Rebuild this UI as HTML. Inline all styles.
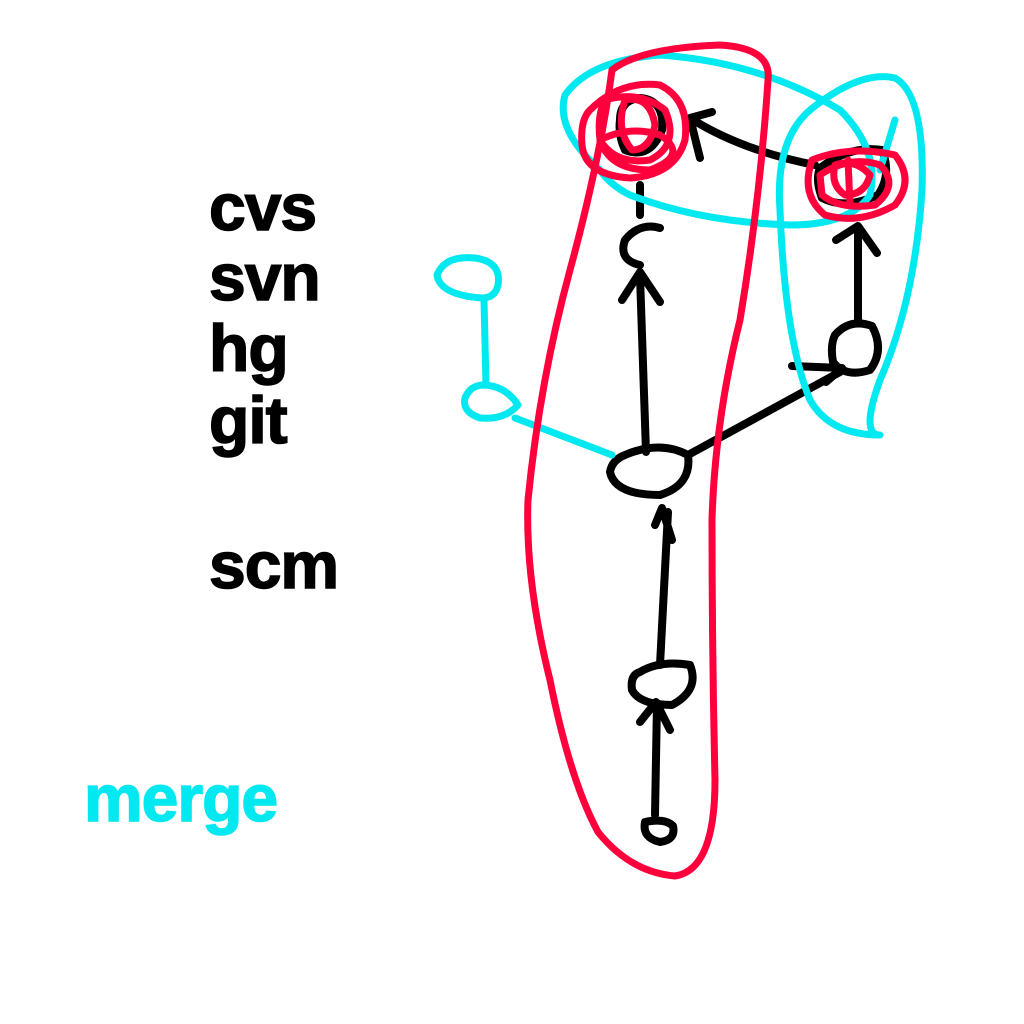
<!DOCTYPE html>
<html><head><style>
html,body{margin:0;padding:0;background:#fff;width:1024px;height:1024px;overflow:hidden}
.t{position:absolute;font-family:"Liberation Sans",sans-serif;font-weight:bold;font-size:66px;letter-spacing:-1px;line-height:1;-webkit-text-stroke:1.5px currentColor}
</style></head><body>
<div class="t" style="left:209px;top:174px">cvs</div>
<div class="t" style="left:209px;top:244px">svn</div>
<div class="t" style="left:209px;top:315px">hg</div>
<div class="t" style="left:209px;top:387px">git</div>
<div class="t" style="left:209px;top:532px">scm</div>
<div class="t" style="left:84px;top:765px;color:#00e8f0">merge</div>
<svg width="1024" height="1024" style="position:absolute;left:0;top:0" fill="none" stroke-linecap="round" stroke-linejoin="round">
<g stroke="#000" stroke-width="8">
<path d="M645 822 Q642 838 660 842 Q676 840 673 826 Q665 818 645 822Z"/>
<path d="M655 815 L657 703 M640 722 L656 702 L670 730"/>
<path d="M640 672 Q660 660 690 665 Q700 690 672 705 Q640 705 632 690 Q630 675 640 672Z"/>
<path d="M660 665 L668 512 M655 525 L662 508 L672 540"/>
<path d="M625 455 Q660 440 688 455 Q692 485 660 495 Q615 495 610 472 Q612 460 625 455Z"/>
<path d="M646 452 L640 276 M622 300 L640 272 L660 302"/>
<path d="M688 455 L840 372 M792 366 L842 368 L826 382"/>
<path d="M660 228 Q640 222 625 240 Q618 260 640 265"/>
<path d="M835 335 Q850 318 872 326 Q885 350 870 370 Q845 378 833 362 Q830 345 835 335Z"/>
<path d="M858 320 L858 228 M836 240 L858 226 L877 253"/>
<path d="M640 215 L640 185"/>
<path d="M815 165 Q740 150 690 118 M690 118 L712 112 M690 118 L700 158"/>
<path d="M620 120 Q620 100 640 98 Q665 100 662 130 Q650 160 625 150 Q618 135 620 120Z"/>
<path d="M820 168 Q850 145 882 150 Q892 175 878 195 Q845 210 822 198 Q815 180 820 168Z"/>
</g>
<g stroke="#00e8f0" stroke-width="7">
<path d="M600 170 Q555 130 565 95 Q590 60 660 55 Q760 62 840 110 Q880 150 870 195 Q850 225 790 225 Q700 222 630 195 Q610 185 600 170Z"/>
<path d="M780 210 Q775 140 810 110 Q860 70 895 78 Q925 95 922 190 Q915 300 880 380 Q860 435 880 435 Q830 435 810 400 Q785 340 780 210Z"/>
<path d="M895 120 L880 170"/>
<path d="M482 298 Q440 295 437 275 Q445 255 475 258 Q502 262 498 285 Q495 298 482 298Z"/>
<path d="M484 300 L486 385"/>
<path d="M482 385 Q505 385 518 405 Q505 420 480 418 Q462 412 465 398 Q470 386 482 385Z"/>
<path d="M515 418 Q560 435 612 455"/>
</g>
<g stroke="#ff003c" stroke-width="7">
<path d="M612 70 Q640 48 720 45 Q772 48 768 80 Q760 200 740 320 Q715 420 712 520 Q712 650 715 780 Q715 870 675 876 Q630 872 598 832 Q570 780 550 680 Q525 580 528 500 Q540 380 570 270 Q600 160 612 70Z"/>
<path d="M590 110 Q620 80 660 85 Q690 100 685 140 Q675 175 630 178 Q585 175 582 145 Q580 120 590 110Z"/>
<path d="M605 100 Q640 90 665 110 Q680 145 650 160 Q615 165 600 140 Q597 115 605 100Z"/>
<path d="M625 100 Q650 95 655 125 Q650 150 632 150 Q615 130 625 100Z"/>
<path d="M600 140 Q630 125 660 135 Q690 155 650 170 Q610 170 600 140Z"/>
<path d="M812 160 Q850 145 895 155 Q915 180 895 205 Q860 225 825 215 Q800 195 812 160Z"/>
<path d="M820 175 Q850 155 880 165 Q900 185 875 205 Q840 210 822 195 Z"/>
<path d="M835 165 Q855 158 870 175 Q865 195 845 195 Q830 185 835 165Z"/>
<path d="M848 160 L850 205"/>
</g>
</svg>
</body></html>
